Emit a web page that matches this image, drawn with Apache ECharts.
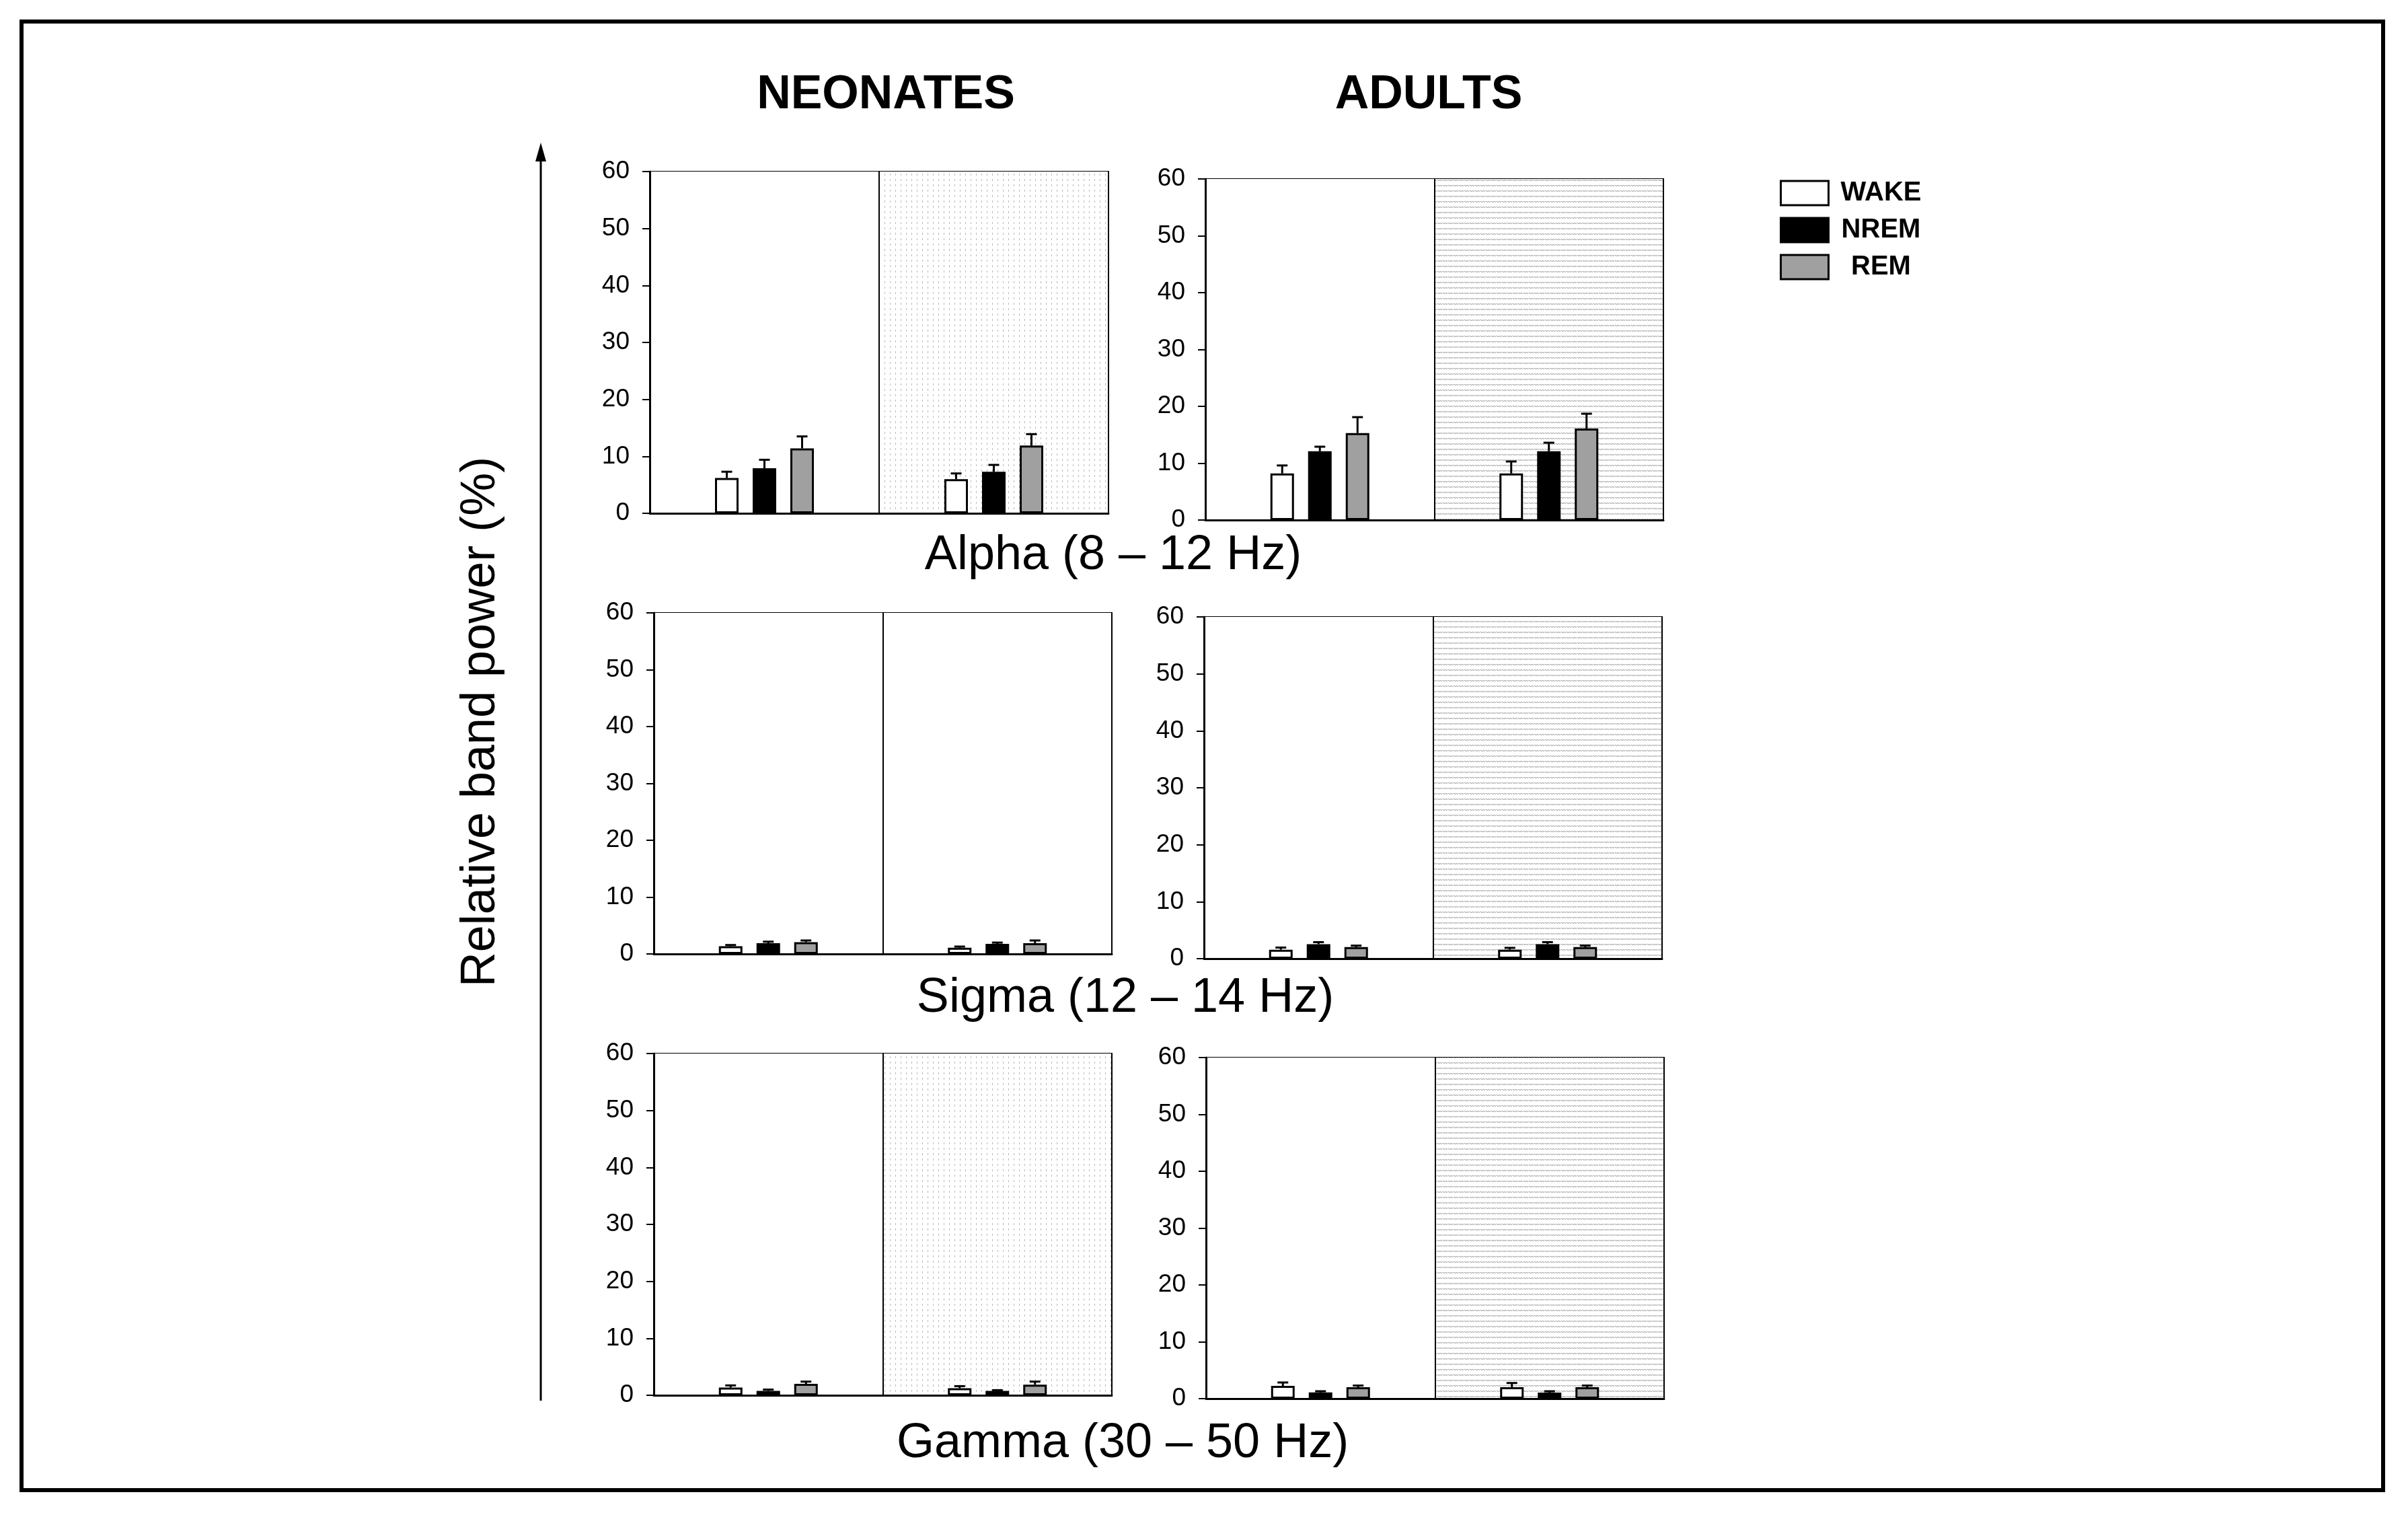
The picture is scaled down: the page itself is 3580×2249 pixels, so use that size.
<!DOCTYPE html>
<html>
<head>
<meta charset="utf-8">
<script src="https://cdn.jsdelivr.net/npm/echarts@6/dist/echarts.min.js"></script>
<style>
html,body{margin:0;padding:0;background:#fff;}
#main{width:3580px;height:2249px;}
</style>
</head>
<body>
<div id="main"></div>
<script>
// ---------------- DATA ----------------
const groups = ['NEONATES', 'ADULTS'];
const bands = ['Alpha (8 – 12 Hz)', 'Sigma (12 – 14 Hz)', 'Gamma (30 – 50 Hz)'];
const states = ['WAKE', 'NREM', 'REM'];
const halves = ['Condition 1', 'Condition 2'];
const yTicks = [0, 10, 20, 30, 40, 50, 60];
const yAxisTitle = 'Relative band power (%)';

// mean values: [half][state]  (WAKE, NREM, REM)
const neonatesAlphaMean = [[6.2, 7.9, 11.4], [6.0, 7.3, 11.9]];
const neonatesAlphaErr  = [[1.1, 1.5, 2.1], [1.0, 1.2, 2.0]];
const adultsAlphaMean   = [[8.2, 12.1, 15.3], [8.2, 12.1, 16.1]];
const adultsAlphaErr    = [[1.4, 0.8, 2.8], [2.1, 1.5, 2.6]];
const neonatesSigmaMean = [[1.36, 1.9, 2.08], [1.1, 1.78, 1.9]];
const neonatesSigmaErr  = [[0.21, 0.26, 0.29], [0.2, 0.22, 0.47]];
const adultsSigmaMean   = [[1.57, 2.54, 2.03], [1.57, 2.54, 2.03]];
const adultsSigmaErr    = [[0.38, 0.36, 0.26], [0.33, 0.36, 0.26]];
const neonatesGammaMean = [[1.35, 0.76, 2.0], [1.23, 0.76, 1.86]];
const neonatesGammaErr  = [[0.38, 0.24, 0.4], [0.37, 0.14, 0.54]];
const adultsGammaMean   = [[2.25, 1.1, 2.0], [2.0, 1.06, 2.0]];
const adultsGammaErr    = [[0.59, 0.2, 0.3], [0.75, 0.24, 0.3]];

// ---------------- STYLE / LAYOUT ----------------
const FONT = '"Liberation Sans", Arial, Helvetica, sans-serif';
const stateColors = ['#ffffff', '#000000', '#a0a0a0'];
const BAR_W = 35, BAR_GAP = 21;

function makePattern(kind) {
  const c = document.createElement('canvas');
  c.width = 8; c.height = 8;
  const g = c.getContext('2d');
  g.fillStyle = '#ffffff'; g.fillRect(0, 0, 8, 8);
  g.fillStyle = '#b8b8b8';
  if (kind === 'dots') {
    g.fillRect(3, 2, 1, 3);
  } else {
    g.fillRect(0, 3, 3, 1); g.fillRect(4, 3, 3, 1);
    g.fillRect(2, 4, 3, 1); g.fillRect(6, 4, 2, 1);
  }
  return { image: c, repeat: 'repeat' };
}
const dotPat = makePattern('dots');
const hPat = makePattern('hlines');

const panels = [
  { mean: neonatesAlphaMean, err: neonatesAlphaErr, box: [966, 255, 682, 508], bg: dotPat },
  { mean: adultsAlphaMean,   err: adultsAlphaErr,   box: [1792, 266, 681, 507], bg: hPat },
  { mean: neonatesSigmaMean, err: neonatesSigmaErr, box: [972, 911, 681, 507], bg: '#ffffff' },
  { mean: adultsSigmaMean,   err: adultsSigmaErr,   box: [1790, 917, 681, 508], bg: hPat },
  { mean: neonatesGammaMean, err: neonatesGammaErr, box: [972, 1566, 681, 508], bg: dotPat },
  { mean: adultsGammaMean,   err: adultsGammaErr,   box: [1793, 1572, 681, 507], bg: hPat }
];

const grid = [], xAxis = [], yAxis = [], series = [];
panels.forEach((p, pi) => {
  grid.push({ left: p.box[0], top: p.box[1], width: p.box[2], height: p.box[3],
    show: true, borderColor: '#000', borderWidth: 2, backgroundColor: 'transparent' });
  xAxis.push({ type: 'category', gridIndex: pi, data: halves,
    axisLine: { show: true, lineStyle: { color: '#000', width: 3 } },
    axisTick: { show: false }, axisLabel: { show: false },
    splitLine: { show: true, lineStyle: { color: '#000', width: 2 } },
    splitArea: { show: true, areaStyle: { color: ['#ffffff', p.bg] } } });
  yAxis.push({ type: 'value', gridIndex: pi, min: yTicks[0], max: yTicks[yTicks.length - 1], interval: 10,
    axisLine: { show: true, lineStyle: { color: '#000', width: 3 } },
    axisTick: { show: true, length: 11, lineStyle: { color: '#000', width: 2 } },
    axisLabel: { color: '#000', fontSize: 37, fontFamily: FONT, margin: 30 },
    splitLine: { show: false } });
  states.forEach((s, k) => {
    series.push({ type: 'bar', name: s, xAxisIndex: pi, yAxisIndex: pi,
      barWidth: BAR_W, barGap: (BAR_GAP / BAR_W * 100) + '%',
      itemStyle: { color: stateColors[k], borderColor: '#000', borderWidth: 3 },
      emphasis: { disabled: true },
      data: halves.map((h, i) => p.mean[i][k]) });
  });
  states.forEach((s, k) => {
    const offset = (k - 1) * (BAR_W + BAR_GAP);
    series.push({ type: 'custom', name: s, xAxisIndex: pi, yAxisIndex: pi, z: 5,
      silent: true,
      data: halves.map((h, i) => [i, p.mean[i][k], p.err[i][k]]),
      renderItem: function (params, api) {
        const base = api.coord([api.value(0), api.value(1)]);
        const top = api.coord([api.value(0), api.value(1) + api.value(2)]);
        const x = base[0] + offset;
        return { type: 'group', children: [
          { type: 'line', shape: { x1: x, y1: base[1], x2: x, y2: top[1] }, style: { stroke: '#000', lineWidth: 3 } },
          { type: 'line', shape: { x1: x - 8, y1: top[1], x2: x + 8, y2: top[1] }, style: { stroke: '#000', lineWidth: 3 } }
        ] };
      } });
  });
});

const txt = (t, x, y, size, weight, rot) => ({
  type: 'text', x: x, y: y, rotation: rot || 0, silent: true,
  style: { text: t, fill: '#000', font: (weight || 'normal') + ' ' + size + 'px ' + FONT,
    align: 'center', verticalAlign: 'middle' } });

const graphic = [
  { type: 'rect', shape: { x: 32, y: 32, width: 3511, height: 2183 }, style: { fill: null, stroke: '#000', lineWidth: 6 }, silent: true },
  txt(groups[0], 1317, 142, 70, 'bold'),
  txt(groups[1], 2124, 142, 70, 'bold'),
  txt(bands[0], 1655, 826, 72),
  txt(bands[1], 1673, 1484, 72),
  txt(bands[2], 1669, 2146, 72),
  txt(yAxisTitle, 715, 1073, 72, 'normal', Math.PI / 2),
  { type: 'line', shape: { x1: 804, y1: 2082, x2: 804, y2: 230 }, style: { stroke: '#000', lineWidth: 3 }, silent: true },
  { type: 'polygon', shape: { points: [[804, 212], [796, 240], [812, 240]] }, style: { fill: '#000' }, silent: true }
];

const chart = echarts.init(document.getElementById('main'), null, { renderer: 'canvas' });
chart.setOption({
  backgroundColor: '#fff',
  animation: false,
  grid, xAxis, yAxis, series, graphic,
  legend: {
    data: states, orient: 'vertical', left: 2646, top: 267, padding: 0,
    itemWidth: 71, itemHeight: 36, itemGap: 15, icon: 'rect',
    itemStyle: { borderColor: '#000', borderWidth: 3 },
    selectedMode: false,
    formatter: '{c|{name}}',
    textStyle: { color: '#000', fontSize: 40, fontWeight: 'bold', fontFamily: FONT,
      rich: { c: { width: 146, align: 'center', fontSize: 40, fontWeight: 'bold', fontFamily: FONT, color: '#000' } } }
  }
});
</script>
</body>
</html>
